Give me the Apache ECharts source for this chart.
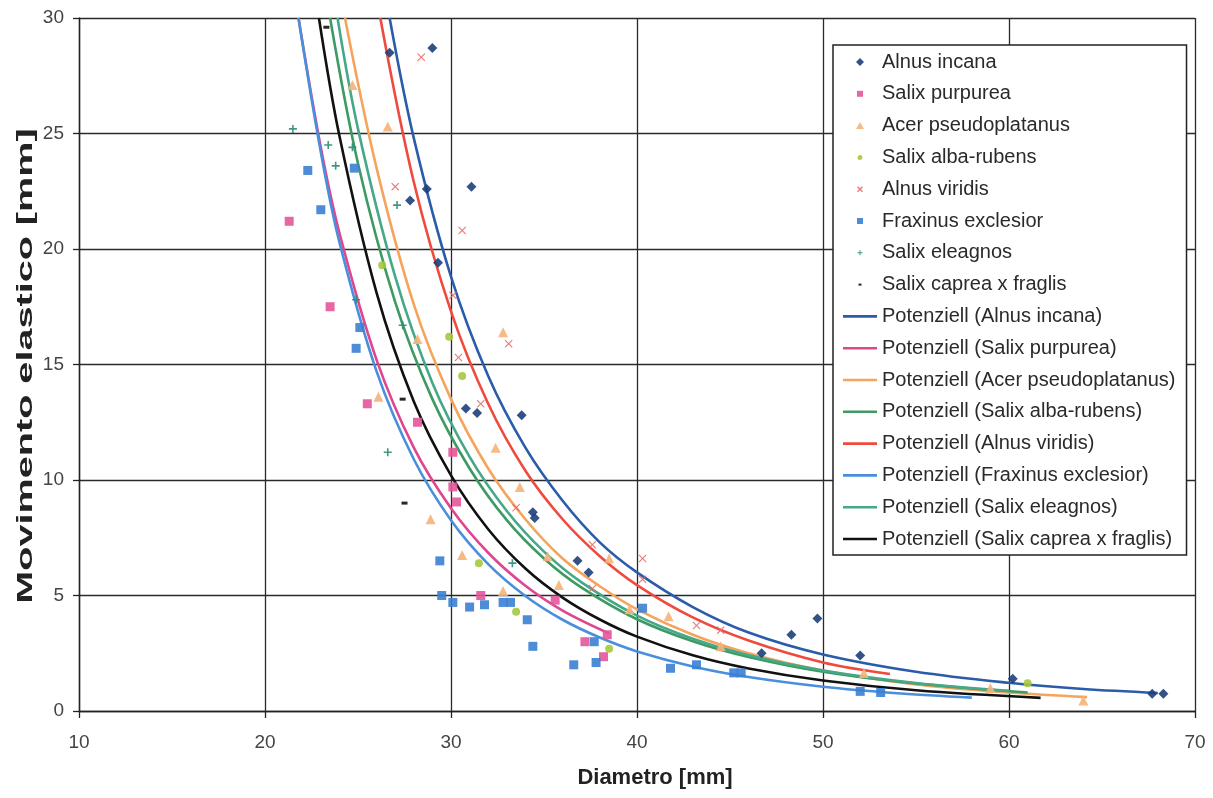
<!DOCTYPE html>
<html><head><meta charset="utf-8">
<script src="https://cdn.jsdelivr.net/npm/echarts@6/dist/echarts.min.js"></script>
<style>html,body{margin:0;padding:0;background:#fff}#c{width:1213px;height:798px}</style>
</head><body><div id="c"></div>
<script>
// ---- data ----
const speciesNames = ['Alnus incana','Salix purpurea','Acer pseudoplatanus','Salix alba-rubens','Alnus viridis','Fraxinus exclesior','Salix eleagnos','Salix caprea x fraglis'];
const fitPrefix = 'Potenziell';
const xAxisTitle = 'Diametro [mm]';
const yAxisTitle = 'Movimento elastico [mm]';
const xMin = 10, xMax = 70, xStep = 10;
const yMin = 0, yMax = 30, yStep = 5;

// measured points [diameter, movement]
const ptsAlnusIncana = [[26.7,28.5],[29.0,28.7],[27.8,22.1],[28.7,22.6],[31.1,22.7],[29.3,19.4],[30.8,13.1],[31.4,12.9],[33.8,12.8],[34.4,8.6],[34.5,8.35],[36.8,6.5],[37.4,6.0],[46.7,2.5],[48.3,3.3],[49.7,4.0],[52.0,2.4],[60.2,1.4],[67.7,0.75],[68.3,0.75]];
const ptsSalixPurpurea = [[21.3,21.2],[23.5,17.5],[25.5,13.3],[28.2,12.5],[30.1,11.2],[30.1,9.7],[30.3,9.05],[31.6,5.0],[35.6,4.8],[37.2,3.0],[38.2,2.35],[38.4,3.3]];
const ptsAcer = [[24.7,27.1],[26.6,25.3],[28.2,16.1],[32.8,16.4],[26.1,13.6],[28.9,8.3],[30.6,6.75],[32.8,5.2],[32.4,11.4],[33.7,9.7],[35.2,6.7],[35.8,5.45],[38.5,6.6],[39.6,4.4],[41.7,4.1],[44.5,2.8],[52.2,1.65],[59.0,1.0],[64.0,0.45]];
const ptsSalixAlba = [[26.3,19.3],[29.9,16.2],[30.6,14.5],[31.5,6.4],[33.5,4.3],[38.5,2.7],[61.0,1.2]];
const ptsAlnusViridis = [[28.4,28.3],[27.0,22.7],[30.6,20.8],[30.1,18.0],[33.1,15.9],[30.4,15.3],[31.6,13.3],[33.5,8.8],[37.6,7.2],[37.6,5.3],[40.3,6.6],[40.3,5.7],[43.2,3.7],[44.5,3.5]];
const ptsFraxinus = [[22.3,23.4],[23.0,21.7],[24.8,23.5],[25.1,16.6],[24.9,15.7],[29.4,6.5],[29.5,5.0],[30.1,4.7],[31.0,4.5],[31.8,4.6],[32.8,4.7],[33.2,4.7],[34.1,3.95],[34.4,2.8],[36.6,2.0],[37.8,2.1],[37.7,3.0],[40.3,4.45],[41.8,1.85],[43.2,2.0],[45.2,1.65],[45.6,1.65],[52.0,0.85],[53.1,0.8]];
const ptsSalixEleagnos = [[21.5,25.2],[23.4,24.5],[23.8,23.6],[24.7,24.4],[27.1,21.9],[27.4,16.7],[24.9,17.8],[26.6,11.2],[33.3,6.4]];
const ptsSalixCaprea = [[23.3,29.6],[27.4,13.5],[27.5,9.0]];

// power trend lines
const fitAlnusIncana = [[26.7,30],[28,24.8],[30,18.8],[32,14.5],[34,11.4],[36,9.1],[38,7.3],[40,6.0],[43,4.5],[46,3.4],[50,2.45],[55,1.7],[60,1.22],[64,0.95],[68,0.78]];
const fitSalixPurpurea = [[21.8,30],[23,24.4],[24,20.7],[26,15.2],[28,11.4],[30,8.78],[32,6.85],[34,5.42],[36,4.35],[38.5,3.36]];
const fitAcer = [[24.3,30],[26,23.5],[28,17.6],[30,13.5],[32,10.5],[34,8.3],[36,6.6],[38,5.4],[40,4.4],[43,3.3],[46,2.5],[50,1.75],[55,1.15],[60,0.8],[64.2,0.6]];
const fitSalixAlba = [[23.5,30],[25,23.7],[27,17.7],[29,13.5],[31,10.5],[33,8.26],[35,6.6],[37,5.35],[40,3.97],[43,3.02],[46,2.34],[50,1.7],[55,1.19],[61,0.8]];
const fitAlnusViridis = [[26.2,30],[28,22.9],[30,17.3],[32,13.3],[34,10.4],[36,8.3],[38,6.7],[40,5.45],[43,4.05],[46,3.05],[50,2.1],[53.6,1.6]];
const fitFraxinus = [[21.8,30],[23,24.2],[24,20.3],[26,14.7],[28,10.9],[30,8.26],[32,6.36],[34,4.98],[36,3.95],[38,3.18],[40,2.58],[43,1.93],[46,1.47],[50,1.05],[54,0.77],[58,0.58]];
const fitSalixEleagnos = [[23.9,30],[25,25.2],[27,18.8],[29,14.2],[31,11.0],[33,8.66],[35,6.9],[37,5.58],[40,4.13],[43,3.13],[46,2.41],[50,1.75],[55,1.21],[60,0.87]];
const fitSalixCaprea = [[22.9,30],[24,24.9],[26,18.1],[28,13.4],[30,10.2],[32,7.87],[34,6.17],[36,4.91],[38,3.96],[40,3.22],[43,2.41],[46,1.84],[50,1.32],[55,0.9],[61.7,0.57]];

const pointSets = [ptsAlnusIncana, ptsSalixPurpurea, ptsAcer, ptsSalixAlba, ptsAlnusViridis, ptsFraxinus, ptsSalixEleagnos, ptsSalixCaprea];
const fitSets = [fitAlnusIncana, fitSalixPurpurea, fitAcer, fitSalixAlba, fitAlnusViridis, fitFraxinus, fitSalixEleagnos, fitSalixCaprea];

// ---- styling ----
const markerColors = ['#1d3f7a','#e4559a','#f5b27a','#a6c83c','#e86a6a','#3b7fd4','#2e8b77','#111111'];
const lineColors = ['#2a5caa','#e0468e','#f6a45c','#3c9a62','#ef4a3e','#4a8fdc','#45a989','#111111'];
const symbols = ['diamond','rect','triangle','circle',
  'path://M0,1L1,0L5,4L9,0L10,1L6,5L10,9L9,10L5,6L1,10L0,9L4,5Z',
  'rect','path://M4,0H6V4H10V6H6V10H4V6H0V4H4Z','rect'];
const symbolSizes = [10,9,10,8,8,9,8,[6,3]];
// legend icons: small marker centred in a 34x8 box
const legendMarkerIcons = [
  'path://M0,0M34,8M17,0L21,4L17,8L13,4Z',
  'path://M0,0M34,8M14,1H20V7H14Z',
  'path://M0,0M34,8M17,0.5L21,7.5H13Z',
  'path://M0,0M34,8M17,1.5A2.5,2.5,0,1,1,16.99,1.5Z',
  'path://M0,0M34,8M14,2L15,1L17,3L19,1L20,2L18,4L20,6L19,7L17,5L15,7L14,6L16,4Z',
  'path://M0,0M34,8M14,1H20V7H14Z',
  'path://M0,0M34,8M16.5,1.5H17.5V3.5H19.5V4.5H17.5V6.5H16.5V4.5H14.5V3.5H16.5Z',
  'path://M0,0M34,8M15.5,3H18.5V5H15.5Z'
];
const legendLineIcon = 'path://M0,0M34,8M0,2.7H34V5.3H0Z';
const FONT = '"Liberation Sans", Arial, sans-serif';

const series = [];
const legendData = [];
speciesNames.forEach((n,i)=>{
  series.push({type:'scatter', name:n, data:pointSets[i], symbol:symbols[i], symbolSize:symbolSizes[i],
    itemStyle:{color:markerColors[i], opacity:0.9}, z:3});
  legendData.push({name:n, icon:legendMarkerIcons[i]});
});
speciesNames.forEach((n,i)=>{
  const nm = fitPrefix + ' (' + n + ')';
  series.push({type:'line', name:nm, data:fitSets[i], showSymbol:false, symbol:'none', smooth:0.35,
    lineStyle:{color:lineColors[i], width:2.6}, itemStyle:{color:lineColors[i]}, z:2});
  legendData.push({name:nm, icon:legendLineIcon, itemStyle:{color:lineColors[i]}});
});

const chart = echarts.init(document.getElementById('c'), null, {renderer:'canvas'});
chart.setOption({
  animation:false,
  backgroundColor:'#fff',
  grid:{left:79, right:18, top:18, bottom:87, containLabel:false},
  xAxis:{type:'value', min:xMin, max:xMax, interval:xStep,
    axisLine:{show:true, lineStyle:{color:'#222', width:1.4}},
    axisTick:{show:true, length:7, lineStyle:{color:'#222', width:1.3}},
    axisLabel:{color:'#444', fontSize:19, fontFamily:FONT, margin:22},
    splitLine:{show:true, lineStyle:{color:'#2a2a2a', width:1.3}}},
  yAxis:{type:'value', min:yMin, max:yMax, interval:yStep,
    axisLine:{show:true, lineStyle:{color:'#222', width:1.4}},
    axisTick:{show:true, length:6, lineStyle:{color:'#222', width:1.3}},
    axisLabel:{color:'#444', fontSize:19, fontFamily:FONT, margin:15},
    splitLine:{show:true, lineStyle:{color:'#2a2a2a', width:1.3}}},
  legend:{orient:'vertical', left:833, top:45, data:legendData, selectedMode:false,
    itemWidth:34, itemHeight:8, itemGap:11.8, padding:[7,11,6,10], symbolKeepAspect:true,
    backgroundColor:'#fff', borderColor:'#222', borderWidth:1.5,
    textStyle:{fontSize:20, fontFamily:FONT, color:'#2a2a2a'}},
  graphic:[
    {type:'text', x:26, y:366, rotation:Math.PI/2, scaleX:1.8, z:10,
      style:{text:yAxisTitle, font:'bold 22px '+FONT, fill:'#222', align:'center', verticalAlign:'middle'}},
    {type:'text', x:655, y:778, z:10,
      style:{text:xAxisTitle, font:'bold 22px '+FONT, fill:'#222', align:'center', verticalAlign:'middle'}}
  ],
  series:series
});
</script></body></html>
